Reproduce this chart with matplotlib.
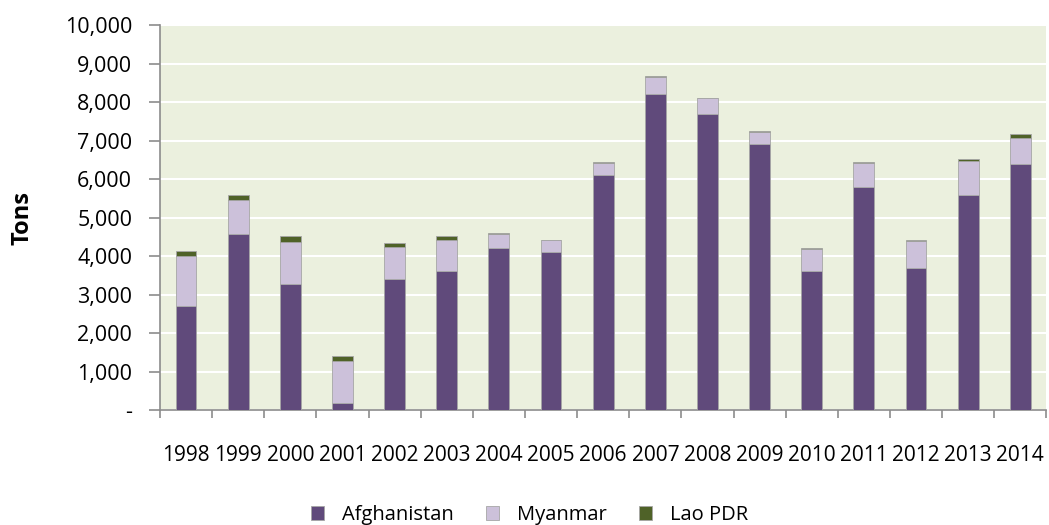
import numpy as np
import matplotlib.pyplot as plt
import matplotlib.ticker as mticker

plt.rcParams['font.family'] = ['Open Sans', 'DejaVu Sans']

years = ['1998', '1999', '2000', '2001', '2002', '2003', '2004', '2005', '2006',
         '2007', '2008', '2009', '2010', '2011', '2012', '2013', '2014']
afghanistan = [2693, 4565, 3276, 185, 3400, 3600, 4200, 4100, 6100,
               8200, 7700, 6900, 3600, 5800, 3700, 5600, 6400]
myanmar = [1303, 895, 1087, 1097, 828, 810, 370, 312, 315,
           460, 410, 330, 580, 610, 690, 870, 670]
lao_pdr = [124, 124, 167, 134, 112, 120, 43, 14, 20,
           9, 10, 11, 18, 25, 41, 41, 92]

x = np.arange(len(years))
afg = np.array(afghanistan)
mya = np.array(myanmar)
lao = np.array(lao_pdr)

fig = plt.figure(figsize=(10.49, 5.25), dpi=100)
ax = fig.add_axes([0.1525, 0.219, 0.845, 0.733])
ax.set_facecolor('#EBF0DE')

w = 0.4
ax.bar(x, afg, width=w, color='#604A7B', edgecolor='#A6A6A6', linewidth=0.6, label='Afghanistan', zorder=3)
ax.bar(x, mya, width=w, bottom=afg, color='#CCC1DA', edgecolor='#A6A6A6', linewidth=0.6, label='Myanmar', zorder=3)
ax.bar(x, lao, width=w, bottom=afg + mya, color='#4F6228', edgecolor='#A6A6A6', linewidth=0.6, label='Lao PDR', zorder=3)

ax.set_xlim(-0.5, len(years) - 0.5)
ax.set_ylim(0, 10000)
ax.set_yticks(np.arange(0, 10001, 1000))
ax.yaxis.set_major_formatter(mticker.FuncFormatter(lambda v, p: '-' if v == 0 else f'{int(v):,}'))
ax.grid(axis='y', color='white', linewidth=1.5, zorder=1)
ax.set_axisbelow(True)

ax.set_xticks(x)
ax.set_xticklabels(years)
ax.set_xticks(np.arange(-0.5, len(years), 1), minor=True)
ax.tick_params(axis='x', which='major', length=0, pad=25, labelsize=15, colors='#000000')
ax.tick_params(axis='x', which='minor', length=6, width=1.2, color='#8C8C8C')
ax.tick_params(axis='y', length=8, width=1.2, color='#8C8C8C', labelsize=15.5, pad=12)

for s in ['top', 'right']:
    ax.spines[s].set_visible(False)
for s in ['left', 'bottom']:
    ax.spines[s].set_color('#8C8C8C')
    ax.spines[s].set_linewidth(1.2)

ax.set_ylabel('Tons', fontsize=17, fontweight='bold', labelpad=22)

leg = fig.legend(loc='lower center', bbox_to_anchor=(0.505, -0.035), ncol=3, frameon=False,
                 fontsize=14.5, handlelength=0.65, handleheight=0.65, columnspacing=1.6, handletextpad=0.9)

fig.savefig('out.png', dpi=100)
